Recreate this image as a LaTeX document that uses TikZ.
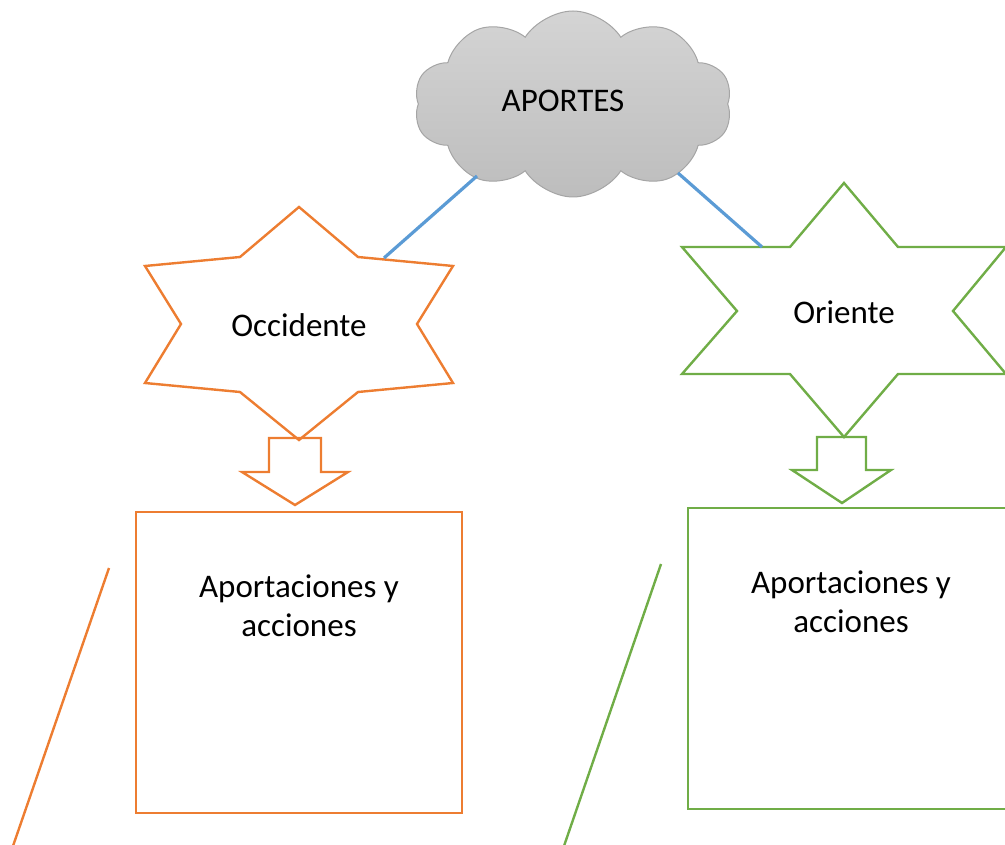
\documentclass[tikz,border=0pt]{standalone}
\usepackage{fontspec}
\setmainfont{Carlito}
\usetikzlibrary{shapes.symbols}
\definecolor{occorange}{HTML}{ED7D31}
\definecolor{oriegreen}{HTML}{70AD47}
\definecolor{linkblue}{HTML}{5B9BD5}
\definecolor{cloudtop}{HTML}{D4D4D4}
\definecolor{cloudbot}{HTML}{BDBDBD}
\definecolor{cloudedge}{HTML}{A5A5A5}
\begin{document}
\begin{tikzpicture}[x=1pt,y=-1pt,
  lbl/.style={font=\fontsize{33}{39}\selectfont,align=center,inner sep=0pt},
  occline/.style={draw=occorange,line width=2.4pt},
  orieline/.style={draw=oriegreen,line width=2.4pt},
  link/.style={draw=linkblue,line width=3.2pt},
  cloudbox/.style={cloud,cloud puffs=10,cloud puff arc=115,aspect=1.7,
    minimum width=318pt,minimum height=186pt,inner sep=0pt,
    draw=cloudedge,line width=1pt,top color=cloudtop,bottom color=cloudbot}]
\useasboundingbox (0,0) rectangle (1005,845);
\clip (0,0) rectangle (1005,845);

\node[cloudbox] (cloud) at (573,104) {};
\node[lbl] (aportes) at (563,101) {APORTES};

% Occidente
\draw[occline,line join=miter] (299,207) -- (358,257) -- (453,266) -- (417,324) -- (453,383) -- (358,392)
  -- (299,440) -- (240,392) -- (145,383) -- (181,324) -- (145,266) -- (240,257) -- cycle;
\node[lbl] (occ) at (299,325) {Occidente};
\draw[occline] (269,438) -- (321,438) -- (321,472) -- (348,472) -- (295,505) -- (242,472) -- (269,472) -- cycle;
\draw[occline] (136,512) rectangle (462,813);
\node[lbl] (occtext) at (299,606) {Aportaciones y\\acciones};

% Oriente
\draw[orieline] (844,183) -- (898,247) -- (1006,247) -- (953,311) -- (1006,374) -- (898,374)
  -- (844,437) -- (790,374) -- (682,374) -- (737,311) -- (682,247) -- (790,247) -- cycle;
\node[lbl] (orie) at (844,312) {Oriente};
\draw[orieline] (817,437) -- (866,437) -- (866,470) -- (891,470) -- (842,503) -- (792,470) -- (817,470) -- cycle;
\draw[orieline] (688,508) rectangle (1014,809);
\node[lbl] (orietext) at (851,602) {Aportaciones y\\acciones};

% links
\coordinate (cl) at (477,176);
\coordinate (cr) at (678,173);
\coordinate (occtop) at (384,258);
\coordinate (orietop) at (762,247);
\draw[link] (cl) -- (occtop);
\draw[link] (cr) -- (orietop);

% slanted lines
\coordinate (oa) at (109,568);
\coordinate (ob) at (13,846);
\coordinate (ga) at (661,564);
\coordinate (gb) at (564,846);
\draw[occline] (oa) -- (ob);
\draw[orieline] (ga) -- (gb);
\end{tikzpicture}
\end{document}
